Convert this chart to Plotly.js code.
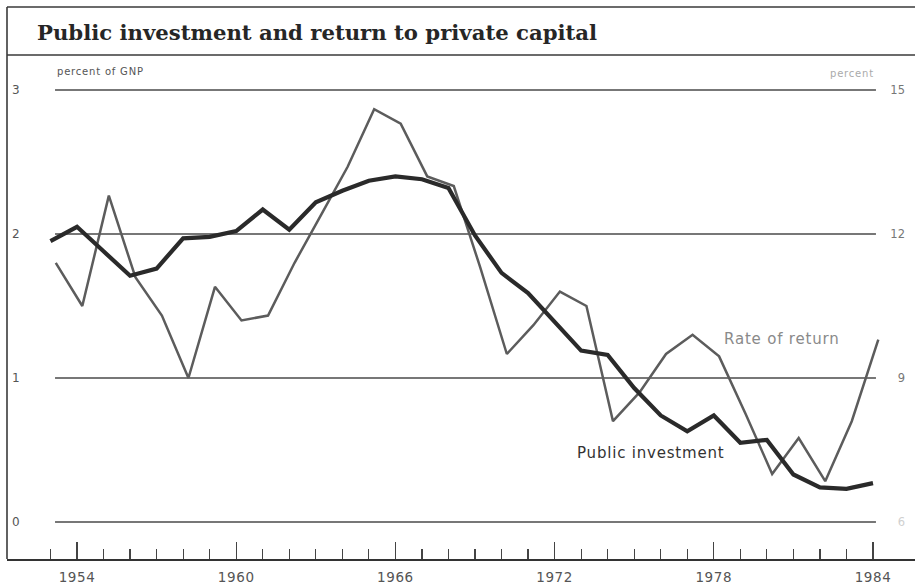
<!DOCTYPE html>
<html><head><meta charset="utf-8">
<script src="https://cdn.plot.ly/plotly-3.0.1.min.js"></script>
<style>
html,body{margin:0;padding:0;background:#fff}
#chart{width:915px;height:587px}
.x2tick text{letter-spacing:0.6px}
.annotation-text{letter-spacing:0.8px}
</style>
</head><body><div id="chart"></div>
<script>
// ---- data ----
const years = [1953,1954,1955,1956,1957,1958,1959,1960,1961,1962,1963,1964,1965,1966,1967,1968,
               1969,1970,1971,1972,1973,1974,1975,1976,1977,1978,1979,1980,1981,1982,1983,1984];
// percent of GNP (left axis)
const publicInvestment = [1.95,2.05,1.88,1.71,1.76,1.97,1.98,2.02,2.17,2.03,2.22,2.30,2.37,2.40,2.38,2.32,
                          1.99,1.73,1.59,1.39,1.19,1.16,0.93,0.74,0.63,0.74,0.55,0.57,0.33,0.24,0.23,0.27];
// percent (right axis)
const rateOfReturn = [11.4,10.5,12.8,11.1,10.3,9.0,10.9,10.2,10.3,11.4,12.4,13.4,14.6,14.3,13.2,13.0,
                      11.3,9.5,10.1,10.8,10.5,8.1,8.7,9.5,9.9,9.45,8.25,7.0,7.75,6.85,8.1,9.8];
const majorYears = [1954,1960,1966,1972,1978,1984];
const majorYearLabels = ['1954','1960','1966','1972','1978','1984'];
const leftTicks = [0,1,2,3];
const leftTickText = ['0','1','2','3'];
const rightTicks = [6,9,12,15];
const rightTickText = ['<span style="color:#d0d0d0">6</span>','9','12','15'];

// ---- layout helpers ----
const xr = [1951.362, 1985.583];
const shift = 0.2;
const yl = [-0.2569, 3.2083];
const yrr = [6 + 3*yl[0], 6 + 3*yl[1]];
const sans = '"DejaVu Sans", "Liberation Sans", Arial, sans-serif';

const traces = [
  {x: years, y: rateOfReturn, xaxis: 'x', yaxis: 'y', mode: 'lines', name: 'Rate of return',
   line: {color: '#5c5c5c', width: 2.5}, hoverinfo: 'skip'},
  {x: years, y: publicInvestment, xaxis: 'x2', yaxis: 'y2', mode: 'lines', name: 'Public investment',
   line: {color: '#2a2a2a', width: 4.2}, hoverinfo: 'skip'}
];

const shapes = leftTicks.map(v => ({type: 'line', xref: 'paper', yref: 'y2', x0: 0.0529, x1: 0.957, y0: v, y1: v,
  line: {color: '#4a4a4a', width: 1.3}, layer: 'below'}));
const frameColor = '#3a3a3a';
shapes.push({type: 'line', xref: 'paper', yref: 'paper', x0: 0, x1: 0, y0: 0, y1: 1.1062, line: {color: frameColor, width: 1.6}});
shapes.push({type: 'line', xref: 'paper', yref: 'paper', x0: 0, x1: 1, y0: 1.1062, y1: 1.1062, line: {color: frameColor, width: 1.6}});
shapes.push({type: 'line', xref: 'paper', yref: 'paper', x0: 0, x1: 1, y0: 1.010, y1: 1.010, line: {color: frameColor, width: 1.6}});

const layout = {
  width: 915, height: 587,
  margin: {l: 7, r: 0, t: 60, b: 28, autoexpand: false},
  paper_bgcolor: '#fff', plot_bgcolor: 'rgba(0,0,0,0)',
  showlegend: false,
  title: {text: '<b>Public investment and return to private capital</b>',
          font: {family: '"DejaVu Serif", "Liberation Serif", serif', size: 21.2, color: '#262626'},
          x: 37/915, xanchor: 'left', xref: 'container', y: 1 - 33/587, yanchor: 'middle', yref: 'container'},
  xaxis: {range: [xr[0] - shift, xr[1] - shift], showgrid: false, zeroline: false, showline: false,
          ticks: '', showticklabels: false, fixedrange: true},
  yaxis: {range: yrr, side: 'right', anchor: 'x', tickvals: rightTicks, ticktext: rightTickText,
          ticklabelposition: 'inside', ticks: '', showgrid: false, zeroline: false, showline: false,
          tickfont: {family: sans, size: 11.5, color: '#777'}, ticklabelstandoff: 7, fixedrange: true},
  xaxis2: {overlaying: 'x', anchor: 'y', side: 'bottom', range: xr, showgrid: false, zeroline: false,
           showline: true, linecolor: '#333', linewidth: 1.6,
           tickmode: 'array', tickvals: majorYears, ticktext: majorYearLabels,
           ticks: 'inside', ticklen: 17, tickwidth: 1.3, tickcolor: '#444',
           minor: {tickmode: 'array', tickvals: years, ticks: 'inside', ticklen: 10, tickwidth: 1.2, tickcolor: '#444', showgrid: false},
           tickfont: {family: sans, size: 13.5, color: '#555'}, ticklabelstandoff: 5, fixedrange: true},
  yaxis2: {overlaying: 'y', anchor: 'x2', side: 'left', range: yl, tickvals: leftTicks, ticktext: leftTickText,
           ticklabelposition: 'inside', ticks: '', showgrid: false, zeroline: false, showline: false,
           tickfont: {family: sans, size: 12, color: '#555'}, ticklabelstandoff: 2, fixedrange: true},
  shapes: shapes,
  annotations: [
    {text: 'percent of GNP', xref: 'paper', yref: 'paper', x: 0.0529, y: 0.976, xanchor: 'left', yanchor: 'middle',
     showarrow: false, font: {family: sans, size: 10, color: '#555'}},
    {text: 'percent', xref: 'paper', yref: 'paper', x: 0.957, y: 0.972, xanchor: 'right', yanchor: 'middle',
     showarrow: false, font: {family: sans, size: 10, color: '#aaa'}},
    {text: 'Rate of return', xref: 'paper', yref: 'paper', x: 0.787, y: 0.441, xanchor: 'left', yanchor: 'middle',
     showarrow: false, font: {family: sans, size: 15, color: '#8a8a8a'}},
    {text: 'Public investment', xref: 'paper', yref: 'paper', x: 0.6256, y: 0.2124, xanchor: 'left', yanchor: 'middle',
     showarrow: false, font: {family: sans, size: 15, color: '#333'}}
  ]
};

Plotly.newPlot('chart', traces, layout, {staticPlot: true, displayModeBar: false});
</script>
</body></html>
